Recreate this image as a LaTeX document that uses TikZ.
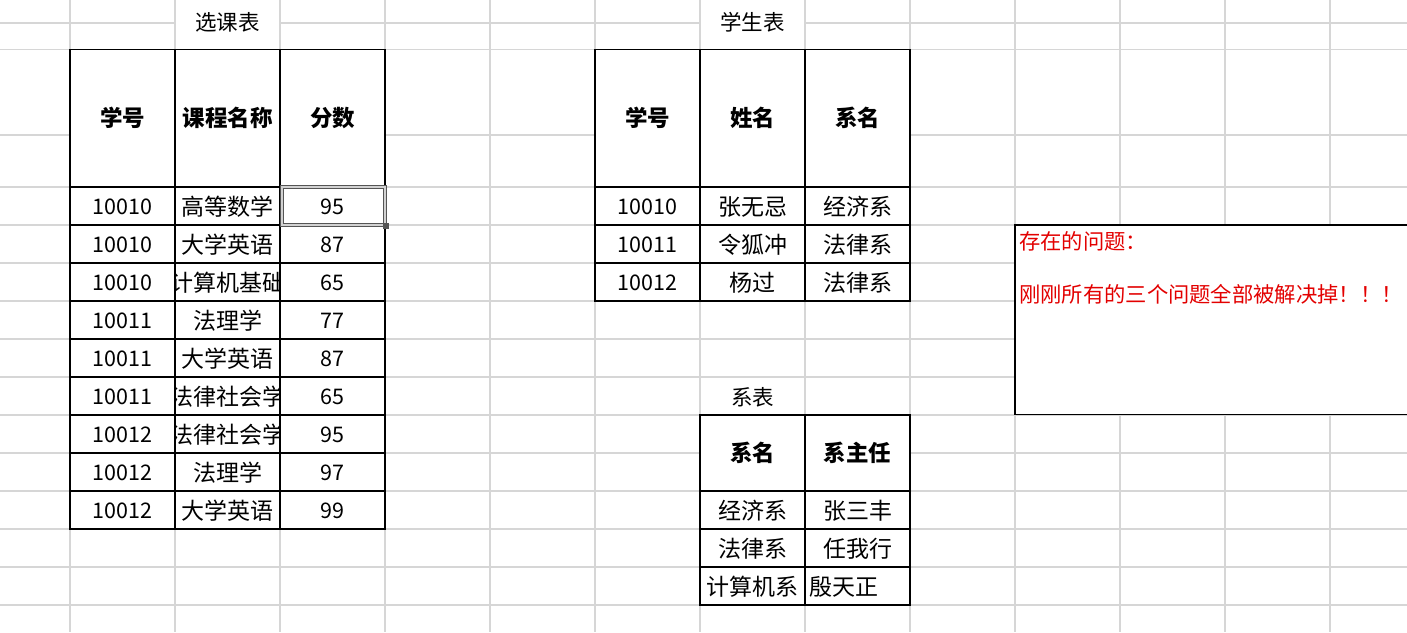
\documentclass[tikz,border=0pt]{standalone}
\usepackage{fontspec}
\setmainfont{Noto Sans CJK SC}
\definecolor{gridgray}{HTML}{D6D6D6}
\definecolor{notered}{HTML}{E30000}
\definecolor{selgray}{HTML}{555555}
\begin{document}
\begin{tikzpicture}[x=1pt,y=-1pt,
  grid/.style={draw=gridgray,line width=1.2pt},
  tbl/.style={draw=black,line width=1.6pt},
  cell/.style={inner sep=0pt,anchor=center,font=\fontsize{23}{25}\selectfont},
  num/.style={inner sep=0pt,anchor=center,font=\fontsize{21.5}{24}\selectfont},
  hdr/.style={inner sep=0pt,anchor=center,font=\fontsize{22.5}{25}\selectfont\bfseries},
  ttl/.style={inner sep=0pt,anchor=center,font=\fontsize{21.5}{24}\selectfont},
  lcell/.style={inner sep=0pt,anchor=west,font=\fontsize{23}{25}\selectfont},
  note/.style={inner sep=0pt,anchor=west,text=notered,font=\fontsize{21.3}{24}\selectfont}]
\useasboundingbox (0,0) rectangle (1407,632);
\clip (0,0) rectangle (1407,632);
\fill[white] (0,0) rectangle (1407,632);
% spreadsheet grid
\foreach \x in {70,175,...,1330} \draw[grid] (\x,0) -- (\x,632);
\foreach \y in {23,49.5,135,187,225,263,301,339,377,415,453,491,529,567,605} \draw[grid] (0,\y) -- (1407,\y);
% merged title cells
\fill[white] (175.8,-2) rectangle (279.2,48.8);
\fill[white] (700.8,-2) rectangle (804.2,48.8);
\node[ttl] (t1title) at (227.5,22) {选课表};
\node[ttl] (t2title) at (752.5,22) {学生表};
\node[ttl] (t3title) at (752.5,397) {系表};

% ---- table 1: 选课表
\draw[tbl,fill=white] (70,49.5) rectangle (385,529);
\foreach \x in {175,280} \draw[tbl] (\x,49.5) -- (\x,529);
\foreach \y in {187,225,263,301,339,377,415,453,491} \draw[tbl] (70,\y) -- (385,\y);
\node[hdr] (a1) at (122.5,118) {学号};
\node[hdr] (a2) at (227.5,118) {课程名称};
\node[hdr] (a3) at (332.5,118) {分数};
\foreach \i/\y/\id/\course/\score in {1/207/10010/高等数学/95, 2/245/10010/大学英语/87, 4/321/10011/法理学/77, 5/359/10011/大学英语/87, 8/473/10012/法理学/97, 9/511/10012/大学英语/99}{
  \node[num] (r\i a) at (122.5,\y) {\id};
  \node[cell] (r\i b) at (227.5,\y) {\course};
  \node[num] (r\i c) at (332.5,\y) {\score};
}
\foreach \i/\y/\id/\course/\score in {3/283/10010/计算机基础/65, 6/397/10011/法律社会学/65, 7/435/10012/法律社会学/95}{
  \node[num] (r\i a) at (122.5,\y) {\id};
  \begin{scope}
    \clip (176,\y-18) rectangle (279.5,\y+18);
    \node[cell] (r\i b) at (227.5,\y) {\course};
  \end{scope}
  \node[num] (r\i c) at (332.5,\y) {\score};
}
% active cell selection
\draw[selgray,line width=1.2pt] (280.6,185.6) rectangle (386.4,226.4);
\draw[gray!35,line width=1.2pt] (282,187) rectangle (385,225);
\draw[selgray,line width=0.9pt] (283.4,188.4) rectangle (383.6,223.6);
\fill[selgray] (383,223) rectangle (389,229);

% ---- table 2: 学生表
\draw[tbl,fill=white] (595,49.5) rectangle (910,301);
\foreach \x in {700,805} \draw[tbl] (\x,49.5) -- (\x,301);
\foreach \y in {187,225,263} \draw[tbl] (595,\y) -- (910,\y);
\node[hdr] (b1) at (647.5,118) {学号};
\node[hdr] (b2) at (752.5,118) {姓名};
\node[hdr] (b3) at (857.5,118) {系名};
\foreach \i/\y/\id/\name/\dept in {1/207/10010/张无忌/经济系, 2/245/10011/令狐冲/法律系, 3/283/10012/杨过/法律系}{
  \node[num] (s\i a) at (647.5,\y) {\id};
  \node[cell] (s\i b) at (752.5,\y) {\name};
  \node[cell] (s\i c) at (857.5,\y) {\dept};
}

% ---- table 3: 系表
\draw[tbl,fill=white] (700,415) rectangle (910,605);
\draw[tbl] (805,415) -- (805,605);
\foreach \y in {491,529,567} \draw[tbl] (700,\y) -- (910,\y);
\node[hdr] (c1) at (752.5,453) {系名};
\node[hdr] (c2) at (857.5,453) {系主任};
\node[cell] (d1a) at (752.5,511) {经济系};
\node[cell] (d1b) at (857.5,511) {张三丰};
\node[cell] (d2a) at (752.5,549) {法律系};
\node[cell] (d2b) at (857.5,549) {任我行};
\node[cell] (d3a) at (752.5,587) {计算机系};
\node[lcell] (d3b) at (809,587) {殷天正};

% ---- note box
\draw[tbl,fill=white] (1015,225) rectangle (1425,414.5);
\node[note] (n1) at (1019,241) {存在的问题：};
\node[note] (n2) at (1019,294) {刚刚所有的三个问题全部被解决掉！！！};
\end{tikzpicture}
\end{document}
